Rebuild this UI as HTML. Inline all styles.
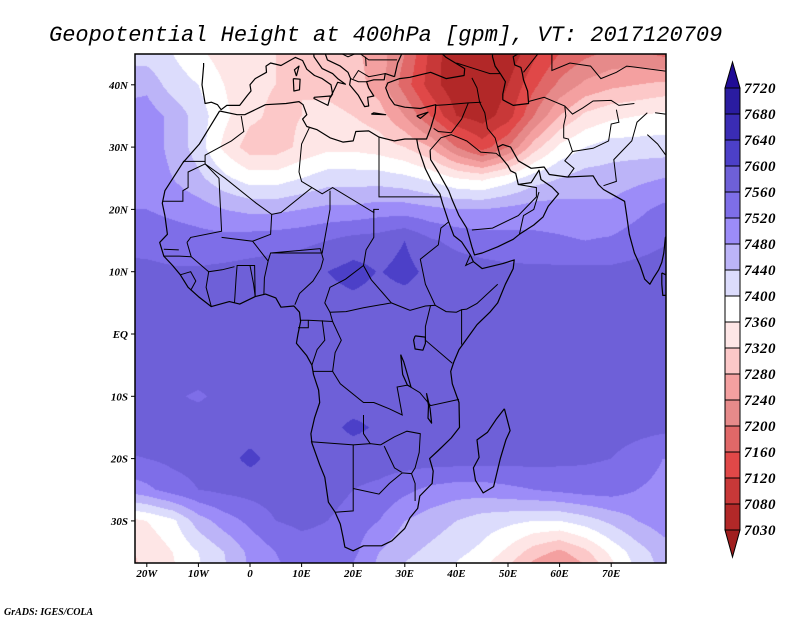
<!DOCTYPE html>
<html><head><meta charset="utf-8">
<style>
html,body{margin:0;padding:0;background:#fff;}
#wrap{position:relative;width:800px;height:618px;overflow:hidden;background:#fff;}
#field{position:absolute;left:135px;top:54px;}
#ov{position:absolute;left:0;top:0;}
text{font-family:"Liberation Serif",serif;}
.t{font-family:"Liberation Mono",monospace;font-style:italic;font-size:22px;}
.ax{font-family:"Liberation Serif",serif;font-style:italic;font-weight:bold;font-size:11px;}
.cb{font-family:"Liberation Serif",serif;font-style:italic;font-weight:bold;font-size:15px;letter-spacing:0.5px;}
</style></head>
<body>
<div id="wrap">
<canvas id="field" width="531" height="509"></canvas>
<svg id="ov" width="800" height="618" xmlns="http://www.w3.org/2000/svg">
<text class="t" x="49" y="41">Geopotential Height at 400hPa [gpm], VT: 2017120709</text>
<g id="coast" fill="none" stroke="#000" stroke-width="1.2" stroke-linejoin="round"></g>
<g id="borders" fill="none" stroke="#000" stroke-width="1"></g>
<rect x="135" y="54" width="531" height="509" fill="none" stroke="#000" stroke-width="1.5"/>
<g id="axes"></g>
<g id="cbar"></g>
<text class="ax" x="4" y="615" style="font-size:10px">GrADS: IGES/COLA</text>
</svg>
</div>
<script>
const levels=[7030,7080,7120,7160,7200,7240,7280,7320,7360,7400,7440,7480,7520,7560,7600,7640,7680,7720];
const colors=['#a01e1e','#b22828','#c83838','#e04848','#e06868','#e68a8a','#f4a0a0','#fcc8c8','#fee6e6','#ffffff','#dcdcfc','#bcb4f8','#9c8cf8','#7e6ee8','#6e60d8','#4c40c8','#3a2cb4','#2a1ca0','#200c96'];
const gridLons=[-25,-20,-15,-10,-5,0,5,10,15,20,25,30,35,40,45,50,55,60,65,70,75,80,85];
const gridLats=[45,40,35,30,25,20,15,10,5,0,-5,-10,-15,-20,-25,-30,-35,-40];
const row45=[7430,7420,7400,7370,7340,7330,7320,7310,7300,7290,7260,7200,7110,7040,7030,7050,7110,7160,7190,7210,7210,7190,7190];
const row40=[7460,7470,7420,7400,7360,7330,7320,7320,7310,7300,7260,7180,7100,7050,7040,7080,7150,7210,7250,7270,7280,7290,7290];
const row35=[7500,7500,7470,7420,7370,7330,7310,7320,7330,7320,7300,7240,7160,7080,7060,7100,7200,7280,7330,7350,7360,7370,7370];
const row30=[7510,7500,7470,7420,7350,7300,7300,7330,7350,7350,7340,7320,7280,7200,7140,7200,7300,7370,7400,7420,7420,7420,7420];
const row25=[7500,7500,7480,7450,7410,7380,7380,7400,7420,7420,7420,7410,7390,7360,7350,7380,7420,7440,7460,7460,7470,7480,7490];
const row20=[7520,7520,7510,7500,7480,7470,7470,7480,7490,7490,7500,7500,7490,7480,7480,7490,7500,7500,7490,7490,7510,7530,7540];
const row15=[7550,7545,7540,7535,7535,7540,7545,7550,7560,7575,7580,7600,7565,7550,7540,7535,7530,7525,7520,7525,7540,7555,7560];
const row10=[7570,7570,7565,7565,7570,7575,7580,7585,7600,7615,7598,7612,7590,7580,7575,7570,7570,7570,7570,7570,7575,7580,7580];
const row05=[7575,7575,7575,7580,7580,7580,7580,7580,7585,7590,7585,7585,7580,7580,7580,7580,7580,7580,7580,7580,7580,7580,7580];
const row00=[7580,7580,7580,7580,7580,7580,7580,7580,7580,7580,7580,7580,7580,7580,7580,7580,7580,7580,7580,7580,7580,7580,7580];
const rowS05=[7580,7580,7580,7580,7580,7580,7580,7580,7580,7580,7580,7580,7580,7580,7580,7580,7580,7580,7580,7580,7580,7580,7580];
const rowS10=[7580,7575,7565,7555,7570,7580,7580,7580,7580,7580,7580,7580,7580,7580,7580,7580,7580,7580,7580,7580,7580,7580,7580];
const rowS15=[7580,7580,7580,7580,7580,7580,7580,7580,7590,7608,7595,7580,7580,7580,7580,7580,7580,7580,7580,7580,7575,7570,7565];
const rowS20=[7555,7560,7570,7575,7585,7610,7585,7580,7580,7580,7580,7580,7580,7580,7580,7575,7575,7570,7565,7560,7540,7520,7520];
const rowS25=[7490,7510,7540,7560,7570,7575,7580,7580,7580,7560,7550,7530,7510,7500,7500,7510,7520,7530,7540,7540,7520,7510,7510];
const rowS30=[7340,7360,7390,7460,7500,7530,7560,7570,7560,7540,7520,7480,7460,7440,7420,7410,7400,7400,7420,7450,7480,7500,7500];
const rowS35=[7310,7330,7360,7400,7440,7490,7520,7540,7540,7530,7480,7450,7430,7410,7390,7350,7300,7270,7310,7370,7420,7460,7470];
const rowS40=[7300,7320,7350,7390,7430,7480,7510,7520,7520,7500,7460,7420,7400,7380,7340,7290,7220,7190,7240,7320,7400,7440,7450];
const grid=[row45,row40,row35,row30,row25,row20,row15,row10,row05,row00,rowS05,rowS10,rowS15,rowS20,rowS25,rowS30,rowS35,rowS40];

const lonX=lon=>250+lon*5.16;
const latY=lat=>334-lat*6.23;
const NS='http://www.w3.org/2000/svg';

function hex(c){return [parseInt(c.substr(1,2),16),parseInt(c.substr(3,2),16),parseInt(c.substr(5,2),16)];}
const rgb=colors.map(hex);
function colorIndex(v){let i=0;while(i<levels.length&&v>=levels[i])i++;return i;}
function valueAt(lon,lat){
  let fi=(lon-gridLons[0])/5, fj=(gridLats[0]-lat)/5;
  fi=Math.max(0,Math.min(gridLons.length-1.0001,fi));
  fj=Math.max(0,Math.min(gridLats.length-1.0001,fj));
  const i=Math.floor(fi),j=Math.floor(fj),a=fi-i,b=fj-j;
  return grid[j][i]*(1-a)*(1-b)+grid[j][i+1]*a*(1-b)+grid[j+1][i]*(1-a)*b+grid[j+1][i+1]*a*b;
}
(function(){
  const cv=document.getElementById('field'),ctx=cv.getContext('2d');
  const W=cv.width,H=cv.height,img=ctx.createImageData(W,H);
  for(let py=0;py<H;py++){
    const lat=(334-(py+54.5))/6.23;
    for(let px=0;px<W;px++){
      const lon=((px+135.5)-250)/5.16;
      const c=rgb[colorIndex(valueAt(lon,lat))];
      const k=(py*W+px)*4;
      img.data[k]=c[0];img.data[k+1]=c[1];img.data[k+2]=c[2];img.data[k+3]=255;
    }
  }
  ctx.putImageData(img,0,0);
})();

const coasts=[
[[-5.9,35.8],[-9.8,30.5],[-13,27.5],[-16.5,23],[-17,21],[-16.5,19],[-16,16],[-17.5,14.7],[-16.7,12.5],[-15,11],[-13.5,9.5],[-12,7.5],[-10,6],[-7.5,4.4],[-4,5.2],[-2,4.8],[1,6],[3,6.4],[5,5.8],[6,4.3],[8.5,4.5],[9.6,3.5],[9.8,2],[9.3,0],[9,-1.5],[11,-3.5],[12,-5],[12.3,-6.5],[13.3,-9],[13.5,-11],[12.5,-13.5],[11.8,-16],[12,-17.5],[13.5,-21],[14.5,-23],[15.2,-27],[16.5,-28.6],[17.5,-30.5],[18,-32.5],[18.4,-34.2],[20,-34.8],[22,-34],[25.5,-34],[27.5,-33.2],[30,-31.2],[31,-29.5],[32.5,-28],[32.9,-26],[35.3,-24],[35.5,-22],[34.8,-20],[36.5,-18.7],[39,-16.7],[40.6,-15],[40.5,-11],[39.2,-8],[38.9,-6],[39.5,-4.5],[40.5,-2.5],[42,-0.8],[44,1.5],[46.5,3.5],[48,5],[49.5,8],[51,10.5],[51.2,11.9],[49,11.3],[45,10.5],[43.3,11.6],[42.7,12.7],[41,14.8],[39.5,15.8],[38.5,18],[37.3,21],[36.8,22.5],[35.5,24],[34,26.5],[32.6,29.9],[32.3,31.3],[30,31.3],[28,31],[25,31.6],[23,32.6],[20.5,32.5],[20,31],[18,30.8],[15.5,31.5],[13,32.8],[11,33.3],[10.2,34.5],[11,35.2],[10.3,36.8],[9.5,37.3],[7,37],[3,36.8],[-1,35.2],[-2.5,35.2],[-5.9,35.8]],
[[32.3,31.3],[34.2,31.3],[35,33],[35.9,35.5],[36,36.8],[33,36.2],[30,36.4],[28,36.8],[27,38],[26.3,39.5],[26.7,40.3],[29,41],[31,41.2],[35,42],[38,41],[41.5,41.5],[41.6,42.6],[39.8,43.5],[38,44.4],[37,45.2]],
[[34.9,29.5],[35,28],[36.5,26],[38.5,23],[39.2,21.5],[40.5,19],[42,17],[43,14],[43.5,12.7],[45,13],[48,14],[51,15.2],[52.2,16],[55,17.5],[56.8,18.8],[57.8,20.5],[59.8,22.5],[58.5,23.6],[56.4,24.8],[56,26.3],[54.5,24.3],[52,24],[51.5,25.8],[50.5,26.2],[50,27],[48.5,28.5],[48,30],[49,30.4],[50.5,30],[52,27.8],[54.5,26.6],[57,26.8],[58,25.6],[61.5,25.2],[66.5,25.4],[67.5,24],[68.5,23.2],[70,22.5],[72.6,21.3],[73,19],[73.5,16],[74.5,13],[75.6,11],[76.5,8.8],[77.5,8],[78.2,9],[79.2,10.3],[79.8,11.5],[80.2,13],[80.5,15.5],[81.5,16.5]],
[[28,41.3],[28.6,43.5],[29.7,45.5]],
[[47,45.5],[47,44.5],[47.5,43],[48.5,41.8],[49.5,40.5],[49,38.5],[49,37.6],[51,36.7],[54,37],[53.8,39],[53,40.8],[52.8,41.8],[52.5,42.8],[51.3,43.2],[51,44.5],[53,45.5]],
[[-9,43.5],[-9,43],[-9.3,40],[-8.9,38],[-8.7,37],[-7.5,37.2],[-6.3,36.8],[-5.6,36],[-4.5,36.7],[-2,36.7],[-0.5,38.3],[0.2,39],[0,40],[1,41],[3.2,42],[3.1,43],[4,43.5],[6,43.1],[7.5,43.8],[8.8,44.4],[10.2,43.9],[11,42.5],[12.5,41.5],[14,41],[15.7,40],[16,38.5],[15.6,38],[16.5,39.5],[17,40.4],[18.5,40.1],[17,41],[16,41.8],[14,42.6],[12.4,44.5],[12.3,45.5]],
[[13.6,45.5],[14.5,45.2],[15,44],[17.5,43],[19,42],[19.5,41],[19.3,40],[21,38.3],[22.2,36.5],[23,36.6],[22.8,38],[24,38.2],[23,39.5],[22.6,40.5],[24,40.8],[26,40.8],[26.2,41.8],[28,41.3]],
[[12.4,38],[15.6,38.2],[15.1,36.7],[12.4,37.8],[12.4,38]],
[[8.4,41],[9.7,40.9],[9.6,39.2],[8.5,39],[8.4,41]],
[[9,41.4],[9.5,43],[8.6,42.4],[9,41.4]],
[[23.5,35.3],[26.3,35.2],[24,35.5],[23.5,35.3]],
[[32.3,35],[34.5,35.6],[33,34.6],[32.3,35]],
[[49.3,-12],[50.4,-15.5],[49.6,-17],[48.5,-20],[47.2,-24.5],[45.2,-25.5],[43.7,-23.5],[43.3,-21.5],[44.4,-19.8],[44,-17],[46,-15.8],[47.8,-13.6],[49.3,-12]],
[[32,-0.3],[34,-0.5],[34,-1.5],[33.5,-2.6],[32,-2.4],[31.7,-1],[32,-0.3]],
[[29.2,-3.3],[29.4,-5],[29.6,-6.5],[30.5,-8.2],[31.2,-8.5],[30.5,-6.5],[29.8,-4.5],[29.2,-3.3]],
[[34.2,-9.5],[34.6,-11.5],[34.5,-13.5],[35.2,-14.3],[34.9,-12],[34.2,-9.5]],
[[79.8,9.8],[80.6,9.5],[81.2,8],[80.8,6.2],[80,6.2],[79.8,8],[79.8,9.8]]
];
const borders=[
[[25,31.6],[25,22],[36.9,22]],
[[25,20],[24,20],[24,19.5],[16,23.5],[14,22.5],[12,23.5],[10,24.5],[9.5,26],[10,30.5],[11.5,33.1]],
[[-8.7,27.3],[-4.8,25],[1.2,21],[4.2,19.2],[6,19.5],[12,23.5]],
[[-1.7,35],[-1.2,32.5],[-3.6,31],[-8.7,28.7],[-8.7,27.3]],
[[-17,21.3],[-13,21.3],[-13,23],[-12,23.5],[-12,26],[-8.7,27.3]],
[[-8.7,27.3],[-6,25],[-5.5,16.5],[-11.5,15.5],[-12.2,14.7]],
[[-13,27.7],[-8.7,27.7]],
[[15.5,23],[15.5,20],[14,13],[12,13],[4,13],[3.5,11.7],[0.5,14.9],[-5.5,15.5]],
[[4.2,19.2],[4,16],[0.5,14.9]],
[[24,20],[24,15.5],[22.5,13.5],[22,11],[23.5,8.7],[27.4,5],[31,3.8],[34,4.5],[35.9,4.6],[34,8],[33,12],[36.5,14.3],[37,17],[38.5,18]],
[[22,11],[18.5,8.8],[15.5,7.5],[14.5,5],[15.5,3.5],[18.6,3.6],[22,4.2],[27.4,5]],
[[12.2,-6],[16,-6],[17.5,-8],[22,-11],[24,-11],[27,-12],[29.5,-13],[28.5,-8.5],[30.5,-8.2]],
[[11.8,-17.3],[20,-17.8],[23.3,-17.6],[25.3,-17.8]],
[[20,-17.8],[20,-22],[20,-24.8],[20,-28.4],[16.5,-28.6]],
[[20,-24.8],[25,-25.7],[27,-24],[29.5,-22.3],[31.3,-22.4],[32,-24],[32,-26.8]],
[[25.3,-17.8],[28,-16.5],[30.4,-15.6],[33,-16],[32.8,-19],[32,-21.5],[31.3,-22.4]],
[[26,-18],[28,-21.5],[29.4,-22.2]],
[[22,-13],[22,-16],[23.3,-17.6]],
[[39.2,-4.7],[34,-1],[34,1.2],[35,4.6]],
[[30.5,-8.2],[32.9,-9.4],[35,-11.5],[40.5,-10.5]],
[[48,8],[44,4.9],[42,4],[41,3.9],[41,-1.7]],
[[41,3.9],[40,3.5],[38,3.6],[35.9,4.6]],
[[42.7,12.7],[41.8,11],[43.3,11.6]],
[[2.7,6.4],[2.8,9],[3.5,11.7]],
[[4,13],[13.6,13.7],[14.2,12],[13.7,10.5],[12.2,8.5],[9.6,6.5],[8.7,4.7]],
[[9.8,2.2],[11.3,2.2],[16,2],[15.5,3.5]],
[[11.3,2.2],[11.3,1],[9.3,1]],
[[14,2.2],[14.5,-1],[13,-2.5],[12,-5]],
[[16,2],[17.7,-1],[16.5,-3],[16,-6]],
[[-3,5],[-2.7,9],[-2.5,11],[0,11],[0.7,8],[1,6]],
[[0,11],[0.9,11],[1,6]],
[[-7.5,4.4],[-8.5,7.5],[-8,10],[-5.4,10.3],[-3,10.8]],
[[-12.2,14.7],[-11.4,12.4],[-8,10]],
[[-13.5,9.5],[-11.5,10],[-10.5,8.5],[-11.5,7]],
[[-16.7,12.5],[-13.7,12.5],[-11.4,12.4]],
[[-16.7,13.6],[-13.8,13.5]],
[[34.9,29.5],[37,31.5],[39,32],[42,31],[44.7,29.2],[47.7,29],[48.4,28.5]],
[[43,16.7],[47,17],[52,19],[55.5,22],[55.5,23.5],[52,24]],
[[52.2,16],[53,19],[55,20],[56,22.8]],
[[48,30],[47.5,31.5],[46,33],[45.5,35.5],[44.5,37.2],[44,39.5],[43,41.1]],
[[36,36.7],[38,36.8],[42.3,37.1],[44.8,37.2]],
[[42.3,37.1],[41,34.5],[39,32.3]],
[[35.6,33],[36.5,32.5],[39,32.3]],
[[61,36.6],[61.2,35],[60.8,33.5],[60.8,31.5],[61.7,31.3],[62.5,29.3],[61,27.8],[62.8,26.6],[61.6,25.2]],
[[71,36],[71.5,34],[70,33.7],[69.5,31],[66.5,29.8],[62.5,29.3]],
[[68.5,23.8],[71,24.5],[70.5,28],[74,31],[75,34],[77,35.5]],
[[53.9,37.3],[57,38],[61,36.6],[62.5,35.3],[64.5,36.3],[66.5,37.4],[70,37.5],[71.5,36.7],[74.5,37]],
[[40,43.5],[43.8,42.5],[46.5,41.8],[48.5,41.8]],
[[53,42],[56,45.2]],[[58.5,45.5],[58.5,42.3],[62,43.5],[66,43],[68,41],[71,42],[73,43],[80.5,42.2]],
[[78.5,35.5],[80.5,35.3]],
[[88,28],[80.5,28.8],[79,30.5],[77,32]],
[[20,41],[21,42.3],[23,41.3],[26.2,41.8]],[[19.5,41],[21,40.5],[22.6,40.5]],
[[16.5,45.5],[19,44.5],[21,45.2],[23,44],[28.5,44]],
[[22.5,43],[22.4,44.5]]
];
function poly(g,pts,name){
  const p=document.createElementNS(NS,'polyline');
  p.setAttribute('points',pts.map(q=>lonX(q[0]).toFixed(1)+','+latY(q[1]).toFixed(1)).join(' '));
  
  
  g.appendChild(p);
}
const svgEl=document.getElementById('ov');
const clip=document.createElementNS(NS,'clipPath');clip.setAttribute('id','pc');
const cr=document.createElementNS(NS,'rect');cr.setAttribute('x',135);cr.setAttribute('y',54);cr.setAttribute('width',531);cr.setAttribute('height',509);
clip.appendChild(cr);svgEl.insertBefore(clip,svgEl.firstChild);
const gc=document.getElementById('coast'),gb=document.getElementById('borders');
gc.setAttribute('clip-path','url(#pc)');gb.setAttribute('clip-path','url(#pc)');
coasts.forEach(c=>poly(gc,c,'coastline'));
borders.forEach(c=>poly(gb,c,'border'));

const lonTicks=[-20,-10,0,10,20,30,40,50,60,70];
const lonLabels=['20W','10W','0','10E','20E','30E','40E','50E','60E','70E'];
const latTicks=[40,30,20,10,0,-10,-20,-30];
const latLabels=['40N','30N','20N','10N','EQ','10S','20S','30S'];
const ga=document.getElementById('axes');
function mk(tag,attrs){const e=document.createElementNS(NS,tag);for(const k in attrs)e.setAttribute(k,attrs[k]);return e;}
lonTicks.forEach((v,i)=>{
  const x=lonX(v);
  const t=mk('line',{x1:x,x2:x,y1:563,y2:567,stroke:'#000','stroke-width':1});
  
  
  ga.appendChild(t);
  const l=mk('text',{x:x,y:577,'text-anchor':'middle',class:'ax'});
  
  
  l.textContent=lonLabels[i];ga.appendChild(l);
});
latTicks.forEach((v,i)=>{
  const y=latY(v);
  const t=mk('line',{x1:131,x2:135,y1:y,y2:y,stroke:'#000','stroke-width':1});
  
  
  ga.appendChild(t);
  const l=mk('text',{x:128,y:y+4,'text-anchor':'end',class:'ax'});
  
  
  l.textContent=latLabels[i];ga.appendChild(l);
});

const gcb=document.getElementById('cbar');
const cbX=725,cbW=15,cbTop=88,boxH=26;
const nBox=levels.length-1;
const cbBottom=cbTop+nBox*boxH;
const cbTopArrow=mk('polygon',{points:`${cbX},${cbTop} ${cbX+cbW},${cbTop} ${cbX+cbW/2},${cbTop-26}`,fill:colors[colors.length-1],stroke:'#000','stroke-width':1});


gcb.appendChild(cbTopArrow);
const cbBotArrow=mk('polygon',{points:`${cbX},${cbBottom} ${cbX+cbW},${cbBottom} ${cbX+cbW/2},${cbBottom+27}`,fill:colors[0],stroke:'#000','stroke-width':1});


gcb.appendChild(cbBotArrow);
for(let k=0;k<nBox;k++){
  const y=cbBottom-(k+1)*boxH;
  const r=mk('rect',{x:cbX,y:y,width:cbW,height:boxH,fill:colors[k+1],stroke:'#000','stroke-width':1});
  
  
  gcb.appendChild(r);
}
levels.forEach((v,k)=>{
  const y=cbBottom-k*boxH;
  const l=mk('text',{x:744,y:y+5,class:'cb'});
  
  
  l.textContent=v;gcb.appendChild(l);
});
</script>
</body></html>
